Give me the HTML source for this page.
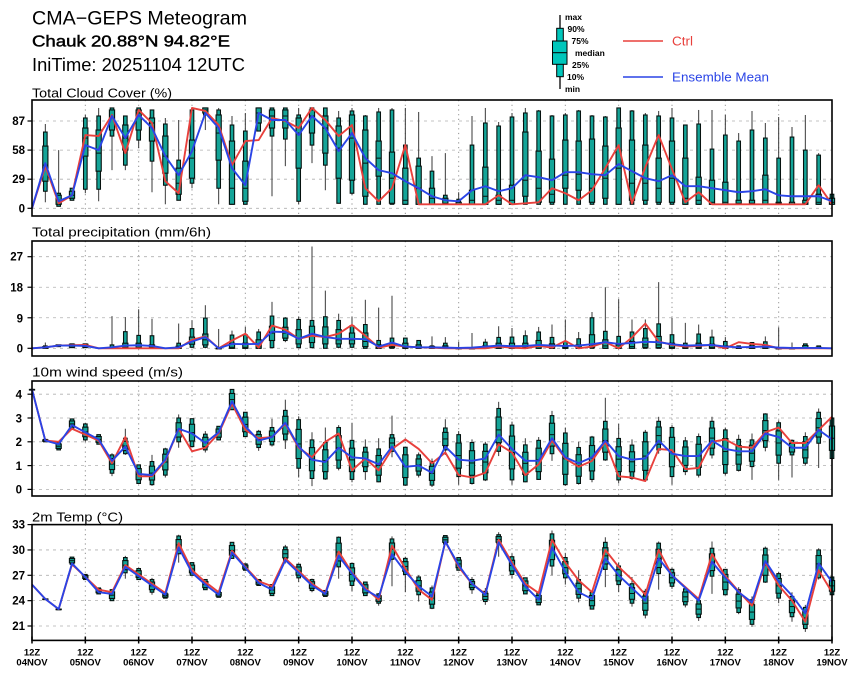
<!DOCTYPE html>
<html><head><meta charset="utf-8"><style>
html,body{margin:0;padding:0;background:#fff;}
svg{display:block;}
text{font-family:"Liberation Sans",Arial,sans-serif;}
.yl{font-size:11.5px;font-weight:bold;text-anchor:end;}
.xl{font-size:9.5px;font-weight:bold;text-anchor:middle;}
.lg{font-size:8.5px;font-weight:bold;}
</style></head><body>
<svg id="s" width="860" height="678" viewBox="0 0 860 678" xmlns="http://www.w3.org/2000/svg">
<rect width="860" height="678" fill="#fff"/>
<g id="grid"></g>
<g id="boxes"></g>
<g id="lines"></g>
<g fill="none" stroke="#000" stroke-width="1.6">
<rect x="32" y="100" width="800" height="116"/>
<rect x="32" y="241" width="800" height="115"/>
<rect x="32" y="381" width="800" height="115"/>
<rect x="32" y="524.6" width="800" height="115.8"/>
</g>
<g id="ticks" stroke="#000" stroke-width="1.2"></g>

<text x="32" y="24.5" font-size="19" textLength="215" lengthAdjust="spacingAndGlyphs">CMA−GEPS Meteogram</text>
<text x="32" y="46.5" font-size="15.5" stroke="#000" stroke-width="0.45" textLength="198" lengthAdjust="spacingAndGlyphs">Chauk 20.88°N 94.82°E</text>
<text x="32" y="71" font-size="18" textLength="213" lengthAdjust="spacingAndGlyphs">IniTime: 20251104 12UTC</text>

<text x="32" y="97.5" font-size="13" textLength="140" lengthAdjust="spacingAndGlyphs">Total Cloud Cover (%)</text>
<text x="32" y="236.5" font-size="13" textLength="179" lengthAdjust="spacingAndGlyphs">Total precipitation (mm/6h)</text>
<text x="32" y="376.5" font-size="13" textLength="151" lengthAdjust="spacingAndGlyphs">10m wind speed (m/s)</text>
<text x="32" y="521.5" font-size="13" textLength="91" lengthAdjust="spacingAndGlyphs">2m Temp (°C)</text>

<text class="yl" x="25" y="125">87</text>
<text class="yl" x="25" y="154">58</text>
<text class="yl" x="25" y="183">29</text>
<text class="yl" x="25" y="212.3">0</text>

<text class="yl" x="23" y="260.7">27</text>
<text class="yl" x="23" y="291.5">18</text>
<text class="yl" x="23" y="322.3">9</text>
<text class="yl" x="23" y="352.3">0</text>

<text class="yl" x="22" y="398.6">4</text>
<text class="yl" x="22" y="422.4">3</text>
<text class="yl" x="22" y="446.2">2</text>
<text class="yl" x="22" y="470">1</text>
<text class="yl" x="22" y="493.6">0</text>

<text class="yl" x="25" y="528.6">33</text>
<text class="yl" x="25" y="554">30</text>
<text class="yl" x="25" y="579.3">27</text>
<text class="yl" x="25" y="604.6">24</text>
<text class="yl" x="25" y="630">21</text>

<g class="xl">
<text x="32" y="655.5" class="xl">12Z</text><text x="32" y="665.5" class="xl">04NOV</text>
<text x="85.3" y="655.5" class="xl">12Z</text><text x="85.3" y="665.5" class="xl">05NOV</text>
<text x="138.7" y="655.5" class="xl">12Z</text><text x="138.7" y="665.5" class="xl">06NOV</text>
<text x="192" y="655.5" class="xl">12Z</text><text x="192" y="665.5" class="xl">07NOV</text>
<text x="245.3" y="655.5" class="xl">12Z</text><text x="245.3" y="665.5" class="xl">08NOV</text>
<text x="298.7" y="655.5" class="xl">12Z</text><text x="298.7" y="665.5" class="xl">09NOV</text>
<text x="352" y="655.5" class="xl">12Z</text><text x="352" y="665.5" class="xl">10NOV</text>
<text x="405.3" y="655.5" class="xl">12Z</text><text x="405.3" y="665.5" class="xl">11NOV</text>
<text x="458.7" y="655.5" class="xl">12Z</text><text x="458.7" y="665.5" class="xl">12NOV</text>
<text x="512" y="655.5" class="xl">12Z</text><text x="512" y="665.5" class="xl">13NOV</text>
<text x="565.3" y="655.5" class="xl">12Z</text><text x="565.3" y="665.5" class="xl">14NOV</text>
<text x="618.7" y="655.5" class="xl">12Z</text><text x="618.7" y="665.5" class="xl">15NOV</text>
<text x="672" y="655.5" class="xl">12Z</text><text x="672" y="665.5" class="xl">16NOV</text>
<text x="725.3" y="655.5" class="xl">12Z</text><text x="725.3" y="665.5" class="xl">17NOV</text>
<text x="778.7" y="655.5" class="xl">12Z</text><text x="778.7" y="665.5" class="xl">18NOV</text>
<text x="832" y="655.5" class="xl">12Z</text><text x="832" y="665.5" class="xl">19NOV</text>
</g>

<line x1="560" y1="15" x2="560" y2="89" stroke="#000" stroke-width="1.3"/>
<rect x="556.7" y="28.3" width="6.6" height="48.4" fill="#00c6bb" stroke="#000" stroke-width="1"/>
<rect x="552.5" y="41" width="14.5" height="23.3" fill="#00c6bb" stroke="#000" stroke-width="1"/>
<line x1="552.5" y1="52.7" x2="567" y2="52.7" stroke="#000" stroke-width="1"/>
<text class="lg" x="565" y="20">max</text>
<text class="lg" x="567.5" y="32">90%</text>
<text class="lg" x="571.5" y="44">75%</text>
<text class="lg" x="575" y="56">median</text>
<text class="lg" x="572" y="68">25%</text>
<text class="lg" x="567" y="80">10%</text>
<text class="lg" x="565" y="92">min</text>
<line x1="623" y1="41" x2="663" y2="41" stroke="#e8403c" stroke-width="1.6"/>
<text x="672" y="45.5" font-size="12.5" fill="#e8403c" textLength="21" lengthAdjust="spacingAndGlyphs">Ctrl</text>
<line x1="623" y1="77" x2="663" y2="77" stroke="#2a44e6" stroke-width="1.6"/>
<text x="672" y="81.5" font-size="12.5" fill="#2a44e6" textLength="97" lengthAdjust="spacingAndGlyphs">Ensemble Mean</text>
</svg>
<script>
(function(){
const NS='http://www.w3.org/2000/svg';
function el(p,t,a){const e=document.createElementNS(NS,t);for(const k in a)e.setAttribute(k,a[k]);p.appendChild(e);return e;}
const X=i=>32+i*800/60;
const G=document.getElementById('grid'),B=document.getElementById('boxes'),L=document.getElementById('lines'),T=document.getElementById('ticks');

const C=[null,
[6,17,27,43,62,76,84],[2,2,4,8,13,15,58],[8,8,10,13,17,20,20],[15,19,52,70,80,90,93],[7,19,37,55,78,92,100],
[38,72,78,90,98,100,100],[38,43,58,70,83,92,92],[60,68,78,95,98,100,100],[16,47,67,85,90,98,98],[4,23,35,52,72,84,90],
[8,8,14,25,40,48,88],[20,25,30,50,68,98,100],[78,93,95,98,100,100,100],[4,20,48,75,93,98,100],[4,4,4,20,67,83,92],
[4,4,7,20,47,77,95],[77,77,85,95,100,100,100],[12,72,80,92,98,100,100],[42,69,80,92,98,100,100],[4,7,40,75,90,93,100],
[45,63,75,92,98,100,100],[18,43,55,80,92,100,100],[5,5,30,60,82,90,97],[13,15,28,70,93,97,100],[4,4,12,45,78,92,93],
[4,4,32,50,67,96,100],[4,4,5,30,56,98,100],[4,4,4,8,40,63,100],[4,4,4,20,42,50,96],[4,4,4,10,20,37,52],
[4,4,4,5,10,13,55],[4,4,4,4,6,9,16],[4,4,4,8,18,63,92],[4,4,4,12,41,85,100],[4,4,4,8,13,82,86],
[4,4,4,8,23,91,95],[4,4,12,28,76,95,100],[4,4,6,20,57,97,98],[4,4,6,14,49,92,93],[4,4,20,33,68,93,95],
[4,4,18,34,67,97,98],[4,4,6,20,69,92,93],[4,4,10,30,62,91,92],[4,4,4,40,80,100,100],[4,4,8,25,68,97,98],
[4,4,8,25,63,93,95],[4,4,6,20,50,92,97],[4,4,6,30,67,90,100],[4,4,4,10,50,83,83],[4,4,4,8,31,84,98],
[4,4,4,6,28,59,98],[4,4,4,6,26,73,93],[4,4,4,5,8,67,75],[4,4,4,5,8,78,97],[4,4,4,8,33,70,85],
[4,4,4,5,6,50,91],[4,4,4,4,6,71,81],[4,4,4,5,8,58,93],[4,4,4,6,14,53,55],[4,4,4,6,10,14,14]];
const Cc=[0,42,5,13,73,72,93,55,98,85,27,15,100,97,83,43,67,68,90,87,80,100,88,72,83,20,7,20,63,4,4,4,4,4,4,13,4,5,6,20,15,8,18,40,63,5,41,73,39,6,16,4,4,4,4,4,4,4,4,23,4];
const Cm=[0,45,7,13,63,58,92,70,93,80,52,33,57,95,80,40,23,95,88,88,73,92,80,57,75,50,38,35,27,20,12,8,7,18,22,17,20,33,31,28,36,36,34,33,44,37,30,27,33,22,22,20,18,16,17,19,13,12,12,12,7];

const P=[null,
[0,0,0,0.2,0.5,0.7,1.7],[0.5,0.5,0.7,0.8,1,1,1],[0.2,0.2,0.3,0.7,1.2,1.3,1.3],[0.2,0.2,0.3,0.7,1.2,1.3,1.3],null,
[0,0,0,0,0.2,1,9.5],[0,0,0,0.3,1.5,4.9,9.2],[0,0,0,0.3,1.5,3.8,11.5],[0,0,0,0.3,1,3.7,8.7],null,
[0,0,0,0.2,0.6,1.5,7.3],[0,0.3,1.2,2,3.3,5.8,8.3],[0,0.3,1,2.5,4.2,8.9,12.7],[0,0,0,0,0,0.2,5.7],[0,0,0,0.3,1.5,3.9,5.2],
[0,0,0,0.3,1.5,4,6.3],[0,0,0,0.5,2.5,4.8,5.7],[0,0.2,2.3,4.5,6.5,9.5,13.7],[1.8,2.3,3,4.5,6.2,8.9,9.2],[0,0.2,1.3,3,5.5,8.5,9.3],
[0,0.2,1.7,4,6.5,8.2,30],[0,0,1.3,3.5,6.3,9.3,17],[0,0.3,1.3,2.5,5.5,8.2,10.2],[0,0.3,1.3,2.5,4.5,6.7,9.3],[0,0,0.5,2,4.5,7,14.3],
[0,0,0,0.3,1,2.3,12],[0,0,0.2,0.5,1.5,3,15.5],[0,0,0,0.3,1.5,3,3],[0,0,0,0.2,1,2.3,2.3],[0,0,0,0.2,0.5,0.7,3.5],
[0,0,0,0.2,0.7,1.5,3.3],[0,0,0,0,0,0.2,2],[0,0,0,0,0,0,4.5],[0,0,0,0.2,0.7,1.8,2.8],[0,0,0,0.3,1.5,3.2,6.5],
[0,0,0,0.3,1.5,3.3,6],[0,0,0,0.3,1.5,3.7,5.3],[0,0,0,0.5,2.3,4.8,6.3],[0,0,0,0.3,1.3,3.2,7],[0,0,0,0.2,0.8,2,8.5],
[0,0,0,0.3,1,2.8,4.8],[0,0,0.3,1,4,9,10.7],[0,0,0,0.7,2.5,5,18],[0,0,0,0.3,1,3.5,14.5],[0,0,0,0.5,2,4.8,8.5],
[0,0,0.3,1,3,5.8,8.5],[0,0,0.2,1,3.5,7.2,19.5],[0,0,0,0.3,1.5,4,9],[0,0,0,0.2,0.7,1.5,7.5],[0,0,0,0.3,1.5,4.2,7],
[0,0,0,0.3,1.2,3.3,5.5],[0,0,0,0.2,0.7,2,3.3],[0,0,0,0,0.3,0.7,0.7],[0,0,0,0.2,0.7,1.7,1.7],[0,0,0,0.3,0.8,1.9,3.5],
[0,0,0,0,0,0,6.2],[0,0,0,0,0,0,1.7],[0,0,0,0.2,0.8,1.3,1.3],[0,0,0,0,0.3,0.7,0.7],null];
const Pc=[0,0.3,0.8,0.9,1.0,0,0,0,0,0,0,0,2.5,3.5,0,2.3,4.3,0.2,6.7,5.5,2.8,3.7,3.3,4.3,6.9,3.7,0.2,1,0.5,0.3,0.2,0,0,0,0,0.5,0.2,0,0.7,0.2,2.2,0,0.5,1.8,0,3.2,7.3,2,1,0.5,0.7,1,0,1.8,1.3,1,0,0,0,0,0];
const Pm=[0,0.3,0.8,0.8,0.7,0,0.3,0.8,0.9,0.7,0,0.3,2.0,3.3,0,1.3,1.2,1.3,4.9,4.8,2.8,4.3,3.3,2.8,2.8,2.7,0.5,1.7,0.5,0.3,0.3,0.2,0.1,0.2,0.5,0.8,0.6,0.7,1.0,0.8,0.7,0.8,1.2,1.8,1.3,1.6,1.9,1.8,1.2,0.8,0.9,1.0,0.5,0.3,0.4,0.5,0.2,0.1,0.1,0.1,0];

const W=[[4.2,4.2],[2.0,2.1],[1.66,1.97],[2.54,2.96],[2.08,2.75,2.0,2.8],[1.9,2.3],[0.68,1.45,0.56,1.52],[1.5,2.15,1.45,2.55],[0.25,1.03],[0.2,1.17,0.15,1.45],
[0.6,1.7,0.5,1.75],[2.0,3.0,1.75,3.15],[1.8,2.97],[1.66,2.32,1.55,2.45],[2.08,2.65],[3.35,4.2],[2.22,3.24],[1.76,2.44,1.62,2.5],[1.87,2.6,1.8,2.97],[2.08,3.32,1.7,3.77],
[0.89,2.93,0.5,3.07],[0.46,2.08,0.14,2.4],[0.44,1.97,0.4,2.6],[0.89,2.6,0.8,2.7],[0.42,2.06,0.3,2.8],[0.75,1.77,0.4,2.1],[0.32,1.7,0.3,2.15],[1.6,2.3,1.35,3.1],[0.18,1.77,0.15,1.8],[0.6,1.45,0.5,1.55],
[0.18,1.17,0.1,1.3],[1.66,2.58,1.45,2.95],[0.54,2.3,0.2,2.45],[0.25,1.97,0.2,2.1],[0.4,1.9,0.35,2.0],[1.6,3.4,1.4,3.68],[0.4,2.7,0.2,2.85],[0.32,1.87,0.3,2.15],[0.42,2.06,0.4,2.2],[1.5,3.1,1.2,3.3],
[0.2,2.37,0.15,2.6],[0.25,1.76,0.2,2.0],[0.42,2.2,0.3,2.25],[1.24,2.86,1.2,3.85],[0.4,2.14,0.25,2.75],[0.46,1.86,0.4,2.1],[0.4,2.4,0.35,2.5],[1.66,2.86,1.5,3.05],[0.54,2.6,0.2,2.7],[0.75,2.04,0.6,2.2],
[0.6,2.22,0.5,2.35],[1.45,2.86,1.3,3.05],[0.68,2.5,0.6,2.6],[0.8,2.1,0.75,2.3],[0.96,2.08,0.4,2.35],[1.77,3.17,1.6,3.2],[1.1,2.8,0.4,2.9],[1.45,2.06,0.5,2.1],[1.1,2.22,1.0,2.4],[1.94,3.24,0.9,3.4],
[1.3,3.0,1.3,3.0]];
const Wc=[4.2,2.05,2.0,2.55,2.3,2.05,1.1,2.2,0.55,0.55,1.2,2.55,1.6,1.75,2.35,3.6,2.5,2.15,2.2,2.75,1.75,1.35,2.0,2.35,0.8,1.3,0.8,1.7,2.1,1.7,1.1,1.55,0.6,0.5,0.7,1.9,1.55,0.6,1.05,2.05,1.3,0.95,1.2,2.0,0.55,0.5,0.35,1.7,1.65,0.85,0.9,2.0,2.1,1.8,1.75,2.4,2.6,1.95,1.95,2.5,3.05];
const Wm=[4.2,2.05,1.9,2.7,2.4,2.1,1.2,1.8,0.65,0.6,1.25,2.55,2.35,1.95,2.4,3.7,2.65,2.05,2.2,2.8,1.8,1.25,1.15,1.75,1.35,1.3,1.05,1.8,0.95,1.0,0.7,1.8,1.25,1.2,1.3,2.3,1.7,1.2,1.2,2.15,1.35,1.1,1.35,2.05,1.4,1.25,1.3,2.05,1.5,1.4,1.4,2.05,1.7,1.6,1.6,2.35,2.2,1.75,1.75,2.5,2.1];

const Tb=[null,[24.2,24.2],[23.0,23.0],[28.3,29.15],[26.5,27.1],[24.8,25.5],[24.0,25.3],[27.3,29.1,26.6,29.3],[26.5,27.8],[25.0,26.5,24.7,26.7],
[24.3,24.9],[29.55,31.65,28.5,31.8],[27.0,28.5],[25.3,26.5],[24.4,25.1],[29.0,30.9],[27.6,28.35],[25.8,26.5],[24.6,25.9],[28.75,30.35,28.4,30.6],
[26.7,28.3,26.2,28.4],[25.2,26.5,25.0,26.6],[24.5,25.2],[28.0,31.5,26.6,31.6],[25.8,28.4,25.1,28.5],[24.6,26.2],[23.7,24.8,23.4,24.9],[28.9,31.3,25.7,31.6],[27.1,29.0,25.0,29.2],[24.7,26.8,23.9,27.0],
[23.1,25.5,23.0,25.8],[30.7,31.7],[27.6,29.1],[25.3,26.5,24.8,26.8],[23.9,25.1,23.5,25.5],[30.7,31.8,29.2,32.1],[27.1,29.2,26.6,29.6],[24.8,26.7],[23.5,24.9],[28.1,31.9,27.0,32.3],
[26.7,29.1,25.9,29.6],[24.3,26.5,23.8,27.6],[23.0,25.0],[27.7,30.9,25.6,31.5],[25.9,28.1,25.0,28.5],[23.7,26.0,23.3,26.8],[22.3,25.1,21.9,25.4],[27.2,30.8,25.3,31.0],[25.7,27.7,25.4,27.9],[23.5,25.4,23.2,25.6],
[22.0,24.0,21.6,24.3],[26.9,30.2,24.8,31.0],[24.7,27.7],[22.6,25.3,22.4,25.6],[21.2,24.1,20.9,24.5],[26.2,30.2,26.1,30.4],[24.3,27.2,23.7,27.4],[22.1,24.5,21.5,25.0],[20.7,23.2,20.3,23.5],[26.7,30.0,26.5,30.2],
[24.7,26.8]];
const Tc=[25.9,24.2,23.0,28.3,26.8,25.3,25.0,28.2,27.1,26.0,24.9,30.8,27.6,26.2,25.0,29.9,28.0,26.3,25.7,29.0,27.5,26.0,24.9,29.8,27.3,25.5,24.1,30.5,27.8,25.3,24.1,31.0,28.0,26.0,24.8,31.2,28.5,26.0,24.9,31.2,28.5,26.4,25.0,30.0,28.0,26.5,24.7,30.0,27.0,25.6,24.2,29.5,26.9,25.1,23.4,28.5,25.8,24.0,21.5,27.6,25.0];
const Tm=[25.9,24.2,23.0,28.4,26.8,25.0,24.8,28.0,26.9,25.8,24.7,30.3,27.3,25.9,24.7,29.7,27.9,26.1,25.3,28.8,27.3,25.8,24.8,29.3,27.2,25.3,24.4,29.5,27.4,25.7,24.5,31.0,28.2,26.0,24.7,30.9,28.2,25.7,24.1,30.3,27.4,25.0,24.2,29.0,27.0,25.5,24.0,29.0,27.0,25.5,24.0,28.6,26.7,25.0,23.8,28.7,26.3,24.6,22.5,28.4,26.2];

const panels=[
 {top:100,bot:216,y:v=>208.3-v*1.0034,ticks:[0,29,58,87],b:C,c:Cc,m:Cm},
 {top:241,bot:356,y:v=>348.3-v*3.393,ticks:[0,9,18,27],b:P,c:Pc,m:Pm},
 {top:381,bot:496,y:v=>489.4-v*23.8,ticks:[0,1,2,3,4],b:W,c:Wc,m:Wm},
 {top:524.6,bot:640.4,y:v=>524.6+(33-v)*8.45,ticks:[21,24,27,30,33],b:Tb,c:Tc,m:Tm}
];
function full(a){
 if(a.length===7)return a;
 const lo=a[0],hi=a[1],mn=a.length>2?a[2]:lo,mx=a.length>3?a[3]:hi,d=hi-lo;
 return [mn,lo,lo+0.2*d,(lo+hi)/2,hi-0.2*d,hi,mx];
}
panels.forEach(p=>{
 p.ticks.forEach(t=>{
  const y=p.y(t);
  if(y>p.top+1&&y<p.bot-1) el(G,'line',{x1:32,x2:832,y1:y,y2:y,stroke:'#b0b0b0','stroke-width':0.8,'stroke-dasharray':'3,4'});
  el(T,'line',{x1:27.5,x2:32,y1:y,y2:y});
 });
 for(let k=1;k<15;k++){
  const x=X(4*k);
  el(G,'line',{x1:x,x2:x,y1:p.top,y2:p.bot,stroke:'#909090','stroke-width':1,'stroke-dasharray':'1.2,3.5'});
 }
 p.b.forEach((a,i)=>{
  if(!a)return;
  const q=full(a).map(p.y),x=X(i);
  if(Math.abs(q[0]-q[6])>0.5) el(B,'line',{x1:x,x2:x,y1:q[6],y2:q[0],stroke:'#3a3a3a','stroke-width':1});
  const h1=Math.max(q[1]-q[5],0.6),h2=Math.max(q[2]-q[4],0.6);
  el(B,'rect',{x:x-1.8,y:q[5],width:3.6,height:h1,fill:'#14a498',stroke:'#06120f','stroke-width':1.1});
  el(B,'rect',{x:x-2.6,y:q[4],width:5.2,height:h2,fill:'#14a498',stroke:'#06120f','stroke-width':1.1});
  el(B,'line',{x1:x-2.6,x2:x+2.6,y1:q[3],y2:q[3],stroke:'#06120f','stroke-width':1});
 });
 const pts=arr=>arr.map((v,i)=>X(i).toFixed(2)+','+p.y(v).toFixed(2)).join(' ');
 el(L,'polyline',{points:pts(p.c),fill:'none',stroke:'#e8403c','stroke-width':1.9,'stroke-linejoin':'round'});
 el(L,'polyline',{points:pts(p.m),fill:'none',stroke:'#2a44e6','stroke-width':1.9,'stroke-linejoin':'round'});
});
for(let d=0;d<=15;d++){const x=X(4*d);el(T,'line',{x1:x,x2:x,y1:636.5,y2:643.5,'stroke-width':1.5});}
})();
</script>
</body></html>
